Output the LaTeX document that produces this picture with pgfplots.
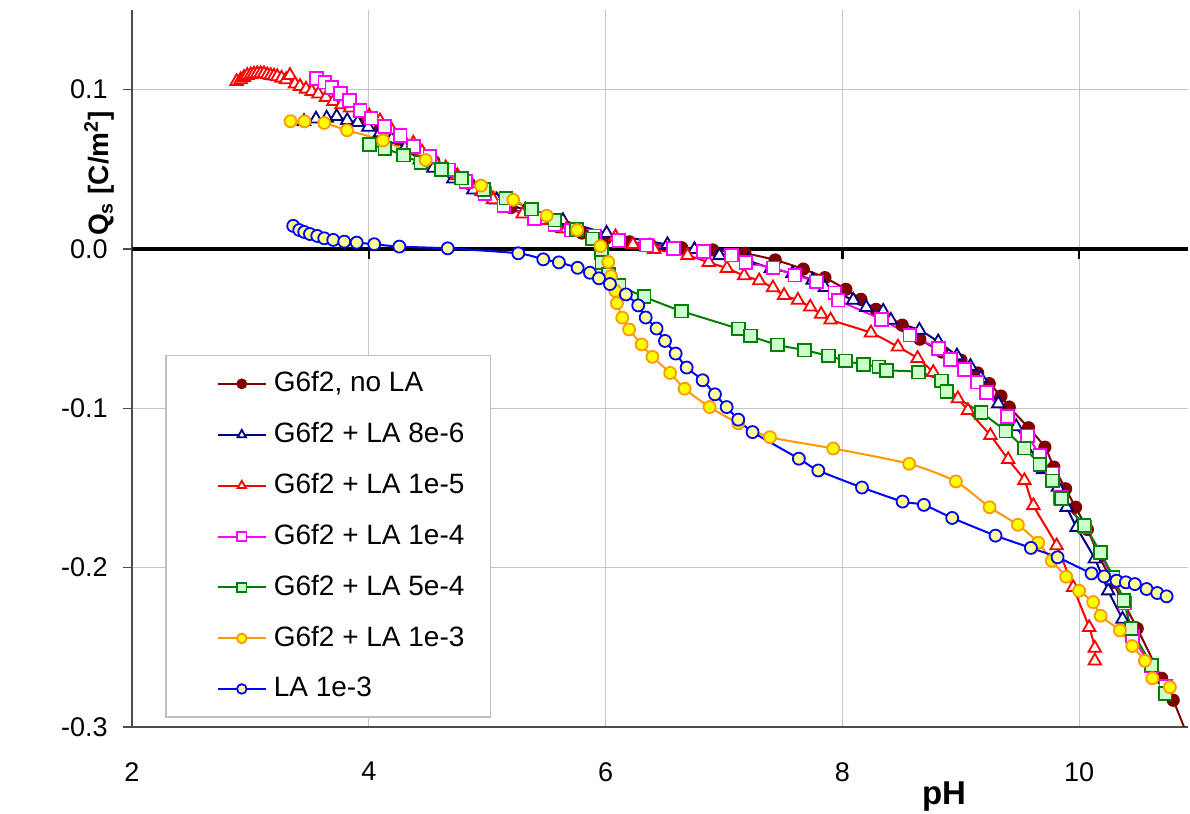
\documentclass[border=0pt]{standalone}
\usepackage{fontspec}
\setmainfont{Liberation Sans}
\usepackage{pgfplots}
\pgfplotsset{compat=1.18}
\definecolor{cMaroon}{HTML}{800000}
\definecolor{cNavy}{HTML}{000080}
\definecolor{cRed}{HTML}{FF0000}
\definecolor{cPink}{HTML}{FF00FF}
\definecolor{cGreen}{HTML}{008000}
\definecolor{cLGreen}{HTML}{CCFFCC}
\definecolor{cOrange}{HTML}{FF9900}
\definecolor{cYellow}{HTML}{FFFF00}
\definecolor{cBlue}{HTML}{0000FF}
\definecolor{cLYellow}{HTML}{FFFF99}
\begin{document}
\fontsize{13.5}{16}\selectfont
\begin{tikzpicture}
\useasboundingbox (-66pt,-43.5pt) rectangle (529pt,363.5pt);
\begin{axis}[
  scale only axis, width=528pt, height=358.5pt,
  xmin=2, xmax=10.92, ymin=-0.3, ymax=0.15,
  axis x line*=bottom, axis y line*=left,
  axis line style={black!70, line width=1pt},
  xtick={2,4,6,8,10}, xticklabels={2,4,6,8,10},
  ytick={-0.3,-0.2,-0.1,0,0.1}, yticklabels={-0.3,-0.2,-0.1,0.0,0.1},
  x tick style={draw=none},
  y tick style={black!70, line width=0.8pt},
  tick align=outside, major tick length=4.5pt,
  xmajorgrids, ymajorgrids, grid style={gray!45, line width=0.6pt},
  xticklabel style={yshift=-8.5pt, font=\fontsize{13.5}{16}\selectfont},
  yticklabel style={xshift=-3pt, font=\fontsize{13.5}{16}\selectfont},
  xlabel={\textbf{pH}},
  xlabel style={at={(axis description cs:0.769,-0.097)}, anchor=center, font=\fontsize{16.5}{19}\selectfont},
  ylabel={\textbf{Q\textsubscript{s} [C/m\textsuperscript{2}]}},
  every axis y label/.style={at={(axis description cs:-0.031,0.772)}, rotate=90, anchor=center, font=\fontsize{14}{17}\selectfont},
  legend style={at={(axis description cs:0.03125,0.519)}, anchor=north west, draw=gray!50, line width=0.8pt, fill=white,
    font=\fontsize{14}{16}\selectfont, row sep=9.3pt, inner xsep=11pt, inner ysep=6pt},
  legend cell align=left,
  legend image code/.code={\path[draw=none,fill=none] (0pt,0pt) (41pt,0pt);\draw[mark repeat=2,mark phase=2,#1,mark size=2.4pt] plot coordinates {(15pt,0pt) (27pt,0pt) (39pt,0pt)};},
  every axis plot/.append style={line width=1pt, smooth, tension=0.4},
]
\draw[black, line width=2pt] (axis cs:2,0) -- (axis cs:10.92,0);
\pgfplotsinvokeforeach{4,6,8,10}{\draw[black, line width=1.2pt] (axis cs:#1,0) -- ++(0pt,-5pt);}

\addplot[color=cMaroon, mark=*, mark size=3pt, mark options={fill=cMaroon, line width=0.6pt}] coordinates {
(3.95,0.083)(4.10,0.076)(4.25,0.069)(4.40,0.062)(4.55,0.055)(4.70,0.048)(4.85,0.041)(5.00,0.034)(5.20,0.026)(5.40,0.019)(5.60,0.014)(5.80,0.010)(6.00,0.0065)(6.20,0.0045)(6.375,0.003)(6.643,0.0008)(6.905,-0.0006)(7.177,-0.0027)(7.433,-0.0069)(7.670,-0.0126)(7.853,-0.018)(8.030,-0.0253)(8.157,-0.0316)(8.284,-0.0379)(8.506,-0.0478)(8.655,-0.0566)(8.839,-0.0646)(9.002,-0.0698)(9.143,-0.0778)(9.241,-0.0845)(9.340,-0.0923)(9.410,-0.0992)(9.573,-0.1122)(9.711,-0.1244)(9.787,-0.1369)(9.886,-0.1505)(9.970,-0.1621)(10.07,-0.176)(10.17,-0.193)(10.285,-0.2092)(10.491,-0.2382)(10.697,-0.2694)(10.795,-0.2832)(10.95,-0.312)
};
\addlegendentry{G6f2, no LA}

\addplot[color=cNavy, mark=triangle*, mark size=3.6pt, mark options={fill=white, line width=0.9pt}] coordinates {
(3.453,0.0801)(3.554,0.0816)(3.644,0.0822)(3.729,0.0832)(3.818,0.0807)(3.906,0.0794)(3.996,0.0765)(4.095,0.0730)(4.193,0.0690)(4.306,0.0635)(4.432,0.0560)(4.545,0.0508)(4.714,0.0440)(4.883,0.0371)(5.080,0.0308)(5.323,0.0245)(5.640,0.0179)(6.009,0.0099)(6.523,0.0028)(6.751,-0.0003)(6.962,-0.0041)(7.205,-0.0075)(7.397,-0.0121)(7.579,-0.0153)(7.749,-0.0195)(7.853,-0.0241)(8.092,-0.0321)(8.202,-0.0367)(8.345,-0.0390)(8.410,-0.0447)(8.651,-0.0509)(8.810,-0.0582)(8.968,-0.0670)(9.082,-0.0736)(9.170,-0.0810)(9.318,-0.0970)(9.469,-0.1115)(9.696,-0.1384)(9.821,-0.1495)(9.894,-0.1621)(9.979,-0.1747)(10.133,-0.1945)(10.246,-0.2145)(10.367,-0.2323)
};
\addlegendentry{G6f2 + LA 8e-6}

\addplot[color=cRed, mark=triangle*, mark size=3.6pt, mark options={fill=white, line width=0.9pt}] coordinates {
(2.884,0.1052)(2.918,0.1063)(2.946,0.1077)(2.974,0.1090)(3.003,0.1094)(3.030,0.1099)(3.058,0.1101)(3.087,0.1101)(3.115,0.1101)(3.143,0.1094)(3.172,0.1090)(3.199,0.1086)(3.227,0.1082)(3.264,0.1073)(3.301,0.1063)(3.334,0.1090)(3.377,0.1036)(3.419,0.1021)(3.470,0.1004)(3.518,0.0989)(3.574,0.0973)(3.639,0.0952)(3.701,0.0926)(3.771,0.0906)(3.841,0.0885)(3.926,0.0860)(4.004,0.0836)(4.095,0.0805)(4.193,0.0748)(4.278,0.0706)(4.376,0.0665)(4.45,0.061)(4.55,0.056)(4.65,0.051)(4.75,0.046)(4.85,0.041)(4.95,0.036)(5.05,0.031)(5.15,0.027)(5.30,0.022)(5.45,0.018)(5.671,0.0127)(6.084,0.0077)(6.231,0.0028)(6.410,-0.0002)(6.692,-0.0041)(6.872,-0.0084)(7.025,-0.0121)(7.171,-0.0167)(7.298,-0.0199)(7.414,-0.0243)(7.508,-0.0291)(7.625,-0.0321)(7.729,-0.0364)(7.821,-0.0409)(7.901,-0.0445)(8.242,-0.0526)(8.470,-0.0614)(8.636,-0.0686)(8.768,-0.0774)(8.976,-0.0939)(9.061,-0.1013)(9.251,-0.1170)(9.401,-0.1321)(9.538,-0.1453)(9.614,-0.1610)(9.810,-0.1862)(9.950,-0.2124)(10.085,-0.2375)(10.133,-0.2505)(10.133,-0.2585)
};
\addlegendentry{G6f2 + LA 1e-5}

\addplot[color=cPink, mark=square*, mark size=3.2pt, mark options={fill=white, line width=0.9pt}] coordinates {
(3.560,0.1069)(3.630,0.1048)(3.689,0.1014)(3.763,0.0977)(3.835,0.0931)(3.926,0.0868)(4.019,0.0822)(4.137,0.0767)(4.264,0.0711)(4.382,0.0645)(4.517,0.0581)(4.671,0.0497)(4.821,0.0423)(4.981,0.0349)(5.142,0.0270)(5.400,0.0193)(5.573,0.0151)(5.714,0.0119)(5.910,0.0082)(6.113,0.0053)(6.347,0.0025)(6.572,0.0004)(6.825,-0.0017)(7.065,-0.0038)(7.186,-0.0084)(7.416,-0.0118)(7.600,-0.0164)(7.783,-0.0206)(7.938,-0.0275)(7.965,-0.0321)(8.332,-0.0442)(8.571,-0.0541)(8.810,-0.0623)(8.913,-0.0692)(9.031,-0.0756)(9.139,-0.0835)(9.219,-0.0901)(9.396,-0.1050)(9.563,-0.1173)(9.669,-0.1296)(9.773,-0.1411)(9.842,-0.1558)(10.049,-0.1746)(10.176,-0.1909)(10.387,-0.2223)(10.449,-0.2430)(10.612,-0.2616)(10.733,-0.2745)
};
\addlegendentry{G6f2 + LA 1e-4}

\addplot[color=cGreen, mark=square*, mark size=3.2pt, mark options={fill=cLGreen, line width=0.9pt}] coordinates {
(4.004,0.0657)(4.137,0.0629)(4.291,0.0589)(4.441,0.0541)(4.616,0.0499)(4.785,0.0445)(4.973,0.0375)(5.159,0.0319)(5.376,0.0250)(5.573,0.0182)(5.753,0.0124)(5.888,0.0063)(5.964,-0.0021)(5.970,-0.0084)(6.023,-0.0160)(6.115,-0.0228)(6.326,-0.0300)(6.643,-0.0390)(7.122,-0.0501)(7.226,-0.0546)(7.454,-0.0602)(7.681,-0.0635)(7.884,-0.0671)(8.028,-0.0702)(8.177,-0.0725)(8.309,-0.0740)(8.374,-0.0761)(8.641,-0.0772)(8.839,-0.0828)(8.883,-0.0893)(9.173,-0.1028)(9.382,-0.1143)(9.536,-0.1250)(9.669,-0.1352)(9.773,-0.1455)(9.849,-0.1566)(10.042,-0.1734)(10.180,-0.1904)(10.288,-0.2059)(10.378,-0.2206)(10.439,-0.2381)(10.612,-0.2611)(10.727,-0.2789)
};
\addlegendentry{G6f2 + LA 5e-4}

\addplot[color=cOrange, mark=*, mark size=3pt, mark options={fill=cYellow, line width=0.9pt}] coordinates {
(3.339,0.0802)(3.457,0.0801)(3.624,0.0791)(3.816,0.0745)(4.120,0.0681)(4.481,0.0558)(4.948,0.0398)(5.220,0.0308)(5.503,0.0209)(5.760,0.0119)(5.957,0.0018)(6.023,-0.0082)(6.046,-0.0170)(6.082,-0.0263)(6.096,-0.0340)(6.141,-0.0431)(6.199,-0.0505)(6.305,-0.0599)(6.396,-0.0677)(6.546,-0.0778)(6.668,-0.0877)(6.879,-0.0992)(7.121,-0.1094)(7.389,-0.1181)(7.923,-0.1252)(8.565,-0.1348)(8.959,-0.1459)(9.244,-0.1621)(9.483,-0.1731)(9.655,-0.1843)(9.770,-0.1956)(9.891,-0.2057)(10.000,-0.2145)(10.119,-0.2216)(10.182,-0.2302)(10.345,-0.2394)(10.449,-0.2492)(10.556,-0.2585)(10.619,-0.2694)(10.767,-0.2750)
};
\addlegendentry{G6f2 + LA 1e-3}

\addplot[color=cBlue, mark=*, mark size=3pt, mark options={fill=cLYellow, line width=0.9pt}] coordinates {
(3.362,0.0145)(3.413,0.0119)(3.455,0.0107)(3.503,0.0094)(3.565,0.0082)(3.624,0.0067)(3.700,0.0057)(3.793,0.0046)(3.898,0.0040)(4.046,0.0030)(4.258,0.0015)(4.667,0.0004)(5.263,-0.0027)(5.474,-0.0065)(5.606,-0.0084)(5.764,-0.0118)(5.868,-0.0149)(5.944,-0.0184)(6.037,-0.0220)(6.172,-0.0285)(6.276,-0.0354)(6.339,-0.0430)(6.431,-0.0499)(6.502,-0.0577)(6.592,-0.0656)(6.685,-0.0744)(6.820,-0.0824)(6.924,-0.0912)(7.023,-0.0992)(7.121,-0.1071)(7.242,-0.1149)(7.633,-0.1316)(7.797,-0.1390)(8.166,-0.1497)(8.509,-0.1585)(8.689,-0.1606)(8.928,-0.1688)(9.294,-0.1799)(9.593,-0.1876)(9.818,-0.1935)(10.105,-0.2036)(10.212,-0.2055)(10.316,-0.2082)(10.395,-0.2092)(10.471,-0.2103)(10.570,-0.2134)(10.660,-0.2159)(10.739,-0.2180)
};
\addlegendentry{LA 1e-3}
\end{axis}
\end{tikzpicture}
\end{document}
